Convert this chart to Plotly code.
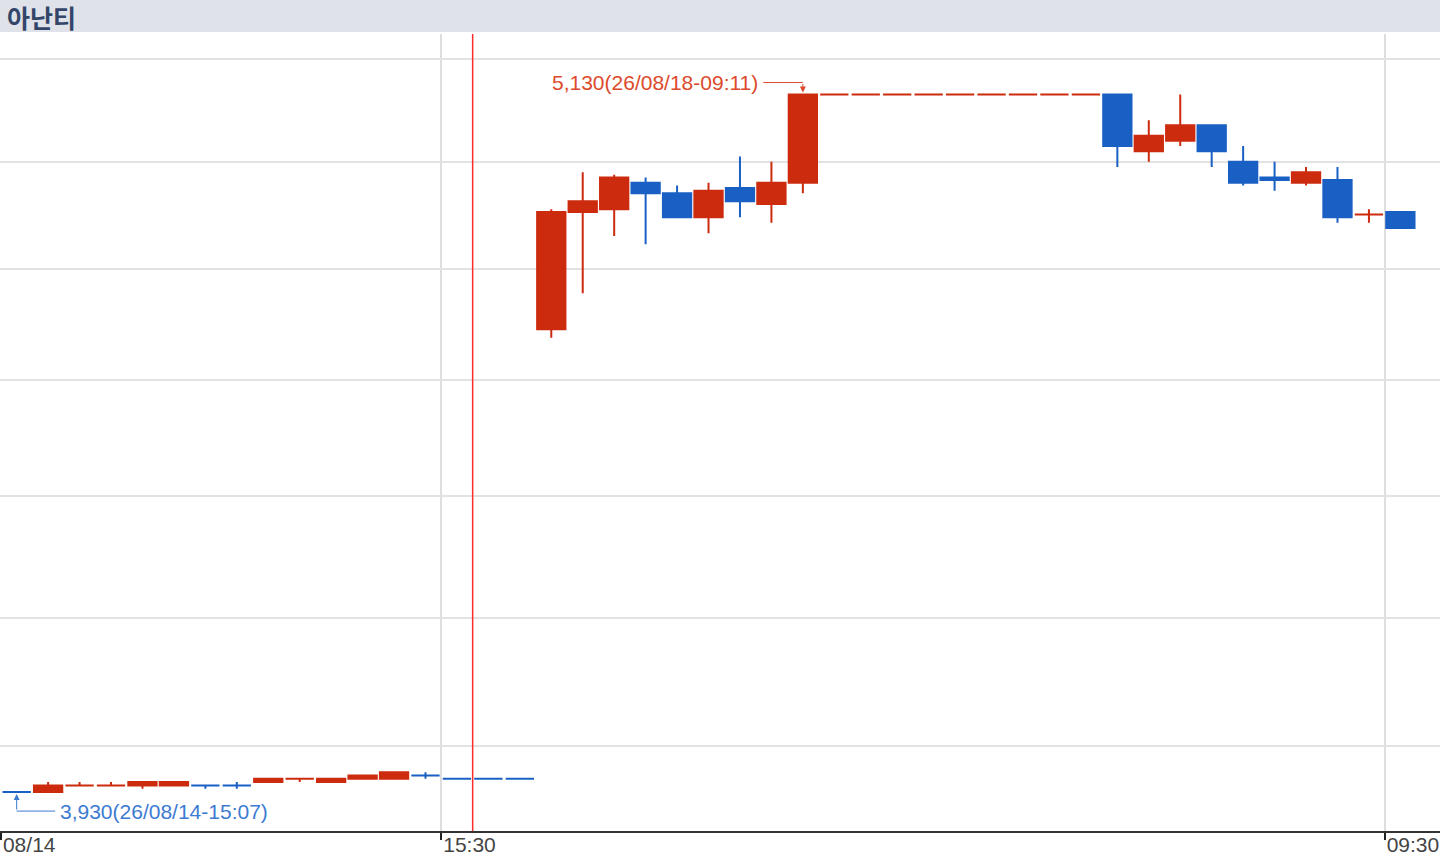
import math
import plotly.graph_objects as go

# ---- data ---------------------------------------------------------------
title = "아난티"

dates = ["26/08/14"] * 15 + ["26/08/18"] * 30
times = ["15:07", "15:08", "15:09", "15:10", "15:11", "15:12", "15:13",
         "15:14", "15:15", "15:16", "15:17", "15:18", "15:19", "15:20",
         "15:30",
         "09:01", "09:02", "09:03", "09:04", "09:05", "09:06", "09:07",
         "09:08", "09:09", "09:10", "09:11", "09:12", "09:13", "09:14",
         "09:15", "09:16", "09:17", "09:18", "09:19", "09:20", "09:21",
         "09:22", "09:23", "09:24", "09:25", "09:26", "09:27", "09:28",
         "09:29", "09:30"]

opens = [3930, 3930, 3940, 3940, 3940, 3940, 3940, 3940, 3945, 3950,
         3945, 3950, 3950, 3955, 3950, 3950, 3950,
         4690, 4905, 4910, 4960, 4940, 4895, 4950, 4920, 4960,
         5130, 5130, 5130, 5130, 5130, 5130, 5130, 5130, 5130,
         5130, 5020, 5040, 5070, 5000, 4970, 4960, 4965, 4900, 4905]
highs = [3930, 3945, 3945, 3945, 3945, 3945, 3940, 3945, 3950, 3950,
         3950, 3955, 3960, 3960, 3950, 3950, 3950,
         4910, 4980, 4975, 4970, 4955, 4960, 5010, 5000, 5130,
         5130, 5130, 5130, 5130, 5130, 5130, 5130, 5130, 5130,
         5130, 5080, 5130, 5070, 5030, 5000, 4990, 4990, 4910, 4905]
lows = [3930, 3930, 3940, 3940, 3935, 3940, 3935, 3935, 3945, 3945,
        3945, 3950, 3950, 3950, 3950, 3950, 3950,
        4675, 4755, 4860, 4845, 4895, 4865, 4895, 4885, 4940,
        5130, 5130, 5130, 5130, 5130, 5130, 5130, 5130, 5130,
        4990, 5000, 5030, 4990, 4955, 4945, 4955, 4885, 4885, 4875]
closes = [3930, 3940, 3940, 3940, 3945, 3945, 3940, 3940, 3950, 3950,
          3950, 3955, 3960, 3955, 3950, 3950, 3950,
          4905, 4925, 4970, 4940, 4895, 4945, 4925, 4960, 5130,
          5130, 5130, 5130, 5130, 5130, 5130, 5130, 5130, 5130,
          5030, 5050, 5070, 5020, 4960, 4965, 4980, 4895, 4900, 4875]
prev_close = 3935  # close of the minute before the window

grid_prices = [4000, 4200, 4400, 4600, 4800, 5000, 5200]
tick_labels = ["08/14", "15:30", "09:30"]

RED = "#cc2b0e"
BLUE = "#1a60c4"
FONT = "Liberation Sans Narrow, Liberation Sans, Arial, sans-serif"

# ---- candle direction (doji take the move vs previous close) -----------
up = []
state = True
prev = prev_close
for o, c in zip(opens, closes):
    if c != o:
        state = c > o
    elif c != prev:
        state = c > prev
    up.append(state)
    prev = c

idx = list(range(len(times)))


def pick(vals, flag):
    return [v for v, u in zip(vals, up) if u == flag]


fig = go.Figure()
for flag, col in [(True, RED), (False, BLUE)]:
    side = dict(line=dict(color=col, width=2), fillcolor=col)
    fig.add_trace(go.Candlestick(
        x=pick(idx, flag), open=pick(opens, flag), high=pick(highs, flag),
        low=pick(lows, flag), close=pick(closes, flag),
        increasing=side, decreasing=side, whiskerwidth=0,
        showlegend=False, hoverinfo="skip"))

# tick positions sit at the left edge of the labelled candle
tick_pos = [-0.5, times.index("15:30") - 0.5, times.index("09:30") - 0.5]

# day separator
new_day = dates.index(dates[-1])
fig.add_shape(type="line", xref="x", yref="paper", x0=new_day - 0.5,
              x1=new_day - 0.5, y0=0, y1=1,
              line=dict(color="#ff2b2b", width=1.5))

# title bar
fig.add_shape(type="rect", xref="paper", x0=0, x1=1, yref="paper",
              ysizemode="pixel", yanchor=1, y0=2, y1=40,
              fillcolor="#dfe2e8", line_width=0, layer="below")
fig.add_annotation(text="<b>" + title + "</b>", xref="paper", yref="paper",
                   x=0, y=1, xanchor="left", yanchor="middle",
                   xshift=5, yshift=17, showarrow=False,
                   font=dict(family="Noto Sans CJK KR", size=25,
                             color="#33466a"))

# max / min markers
hi = max(highs)
hi_i = highs.index(hi)
lo = min(lows)
lo_i = lows.index(lo)


def mark(i, price, color, dx, dy, text_anchor):
    y = math.log10(price)
    fig.add_annotation(x=i, y=y, ax=0, ay=-dy, text="", showarrow=True,
                       arrowhead=2, arrowsize=1.2, arrowwidth=1,
                       arrowcolor=color, standoff=2)
    fig.add_annotation(x=i, y=y, ax=dx, ay=0, text="", showarrow=True,
                       arrowhead=0, arrowwidth=1, arrowcolor=color,
                       yshift=dy)
    label = "{:,}({}-{})".format(price, dates[i], times[i])
    fig.add_annotation(x=i, y=y, text=label, showarrow=False,
                       xanchor=text_anchor, yanchor="middle",
                       xshift=dx + (1 if dx > 0 else -2), yshift=dy,
                       font=dict(family=FONT, size=21, color=color))


mark(hi_i, hi, "#dc4a2c", -41, 12, "right")
mark(lo_i, lo, "#3d7bd2", 40, -19, "left")

fig.update_layout(
    width=1440, height=857,
    margin=dict(l=0, r=0, t=34, b=26),
    paper_bgcolor="white", plot_bgcolor="white",
    boxgap=0.1, boxgroupgap=0,
    xaxis=dict(range=[-0.53, 45.26], tickmode="array", tickvals=tick_pos,
               ticktext=tick_labels, ticklabelposition="outside right",
               ticks="outside", ticklen=7, tickwidth=2, tickcolor="#222",
               ticklabelstandoff=-6, automargin=False,
               showgrid=True, gridcolor="#dedede", gridwidth=1.5,
               showline=True, linecolor="#333", linewidth=2,
               zeroline=False, rangeslider=dict(visible=False),
               tickfont=dict(family=FONT, size=21, color="#444")),
    yaxis=dict(type="log",
               range=[math.log10(3872), math.log10(5250)],
               tickmode="array", tickvals=grid_prices,
               showticklabels=False, ticks="", automargin=False,
               showgrid=True, gridcolor="#e2e2e2", gridwidth=1.5,
               zeroline=False, showline=False),
)

fig.write_html("out.html", config={"displayModeBar": False},
               post_script="document.body.style.margin='0';")
